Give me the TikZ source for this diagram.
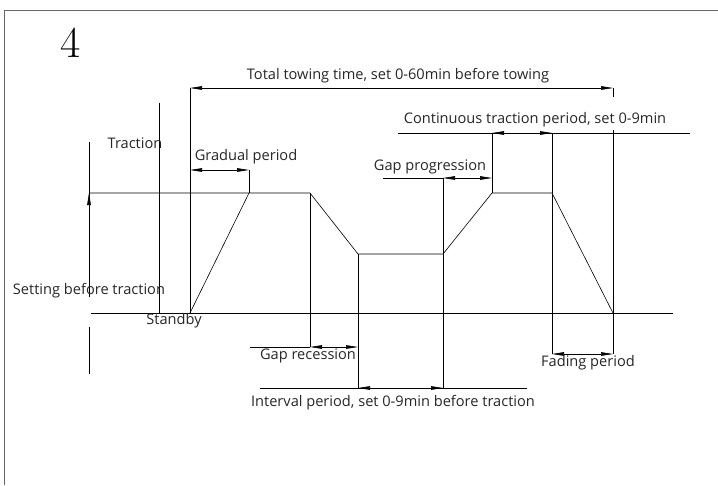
\documentclass[tikz,border=0pt]{standalone}
\usepackage{fontspec}
\setsansfont{Open Sans}
\usetikzlibrary{arrows.meta}
\begin{document}
\begin{tikzpicture}[x=1pt,y=-1pt,>={Triangle[length=12pt,width=3.6pt]}, line width=0.6pt, line join=round,
	font=\sffamily\fontsize{14.6}{17}\selectfont, text=black!85]
	\useasboundingbox (0,0) rectangle (718,485);
	\def\yb{313} \def\yt{193} \def\ym{254}
	% frame
	\draw[black!60] (4,485)--(4,10)--(718,10);
	\node[font=\rmfamily\fontsize{44}{44}\selectfont, text=black] (num) at (71,43) {4};
	% key points of the profile
	\coordinate (set) at (89,\yt);   \coordinate (dn1) at (310,\yt);
	\coordinate (lo1) at (358,\ym);  \coordinate (lo2) at (443,\ym);
	\coordinate (up2) at (492,\yt);  \coordinate (dn2) at (552,\yt);
	\coordinate (fin) at (613,\yb);  \coordinate (st) at (190,\yb);
	\coordinate (gr) at (249,\yt);
	\draw (91,\yb)--(673,\yb);
	\draw (set)--(dn1)--(lo1)--(lo2)--(up2)--(dn2)--(fin);
	\draw (st)--(gr);
	% extension lines
	\draw (89,142)--(89,297) (89,327)--(89,374);
	\draw[->] (89,260)--(set);
	\draw (159,103)--(159,\yb);
	\draw (190,88)--(st);
	\draw (613,88)--(613,97) (613,130)--(613,354);
	\draw (gr)--(249,170);
	\draw (dn1)--(310,347);
	\draw (lo1)--(358,388);
	\draw (443,178)--(443,388);
	\draw (up2)--(492,133);
	\draw (552,133)--(552,354);
	\draw (398,133)--(690,133);
	\draw (383,178)--(443,178);
	\draw (250,347)--(310,347);
	\draw (260,388)--(527,388);
	% dimension arrows
	\draw[<->] (190,88)--(613,88);
	\draw[<->] (190,170)--(249,170);
	\draw[<->] (492,133)--(552,133);
	\draw[<->] (443,178)--(492,178);
	\draw[<->] (310,347)--(358,347);
	\draw[<->] (358,388)--(443,388);
	\draw[<->] (552,354)--(613,354);
	% labels
	\node (total) at (398,76) {Total towing time, set 0-60min before towing};
	\node (trac) at (135,143) {Traction};
	\node (grad) at (246,157) {Gradual period};
	\node (cont) at (535,120) {Continuous traction period, set 0-9min};
	\node (gprog) at (430,167) {Gap progression};
	\node (sett) at (89,291) {Setting before traction};
	\node (stby) at (174,321) {Standby};
	\node (grec) at (308,356) {Gap recession};
	\node (intv) at (393,403) {Interval period, set 0-9min before traction};
	\node (fade) at (588,363) {Fading period};
\end{tikzpicture}
\end{document}
